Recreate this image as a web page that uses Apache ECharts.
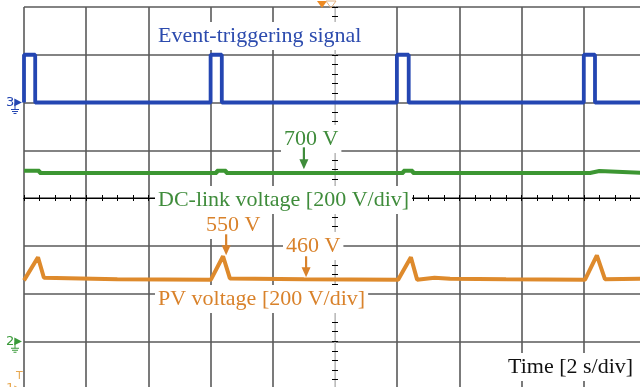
<!DOCTYPE html>
<html>
<head>
<meta charset="utf-8">
<script src="https://cdn.jsdelivr.net/npm/echarts@6/dist/echarts.min.js"></script>
<style>
html,body{margin:0;padding:0;background:#fff;}
#chart{width:640px;height:387px;}
</style>
</head>
<body>
<div id="chart"></div>
<script>
// ---- Data ----
// Time axis: 2 s/div, 10 divisions
const timeTicks = [0, 2, 4, 6, 8, 10, 12, 14, 16, 18, 20];

// Event-triggering signal (logic level, 1 div high)
const eventTime  = [0, 0, 0.36, 0.36, 6.0, 6.0, 6.36, 6.36, 11.99, 11.99, 12.37, 12.37, 18.0, 18.0, 18.36, 18.36, 19.9];
const eventLevel = [0, 1, 1,    0,    0,   1,   1,    0,    0,     1,     1,     0,     0,    1,    1,     0,     0];

// DC-link voltage [V], 200 V/div
const dcTime = [0,   0.5, 0.5, 6.2, 6.2, 6.5, 6.5, 12.2, 12.2, 12.5, 12.5, 18.2, 18.2, 18.5, 18.5, 19.9];
const dcVolt = [714, 714, 705, 705, 714, 714, 705, 705,  714,  714,  705,  705,  713,  713,  705,  705];

// PV voltage [V], 200 V/div
const pvTime = [0,   0.45, 0.64, 3.0, 6.01, 6.4, 6.62, 9.0, 12.03, 12.44, 12.64, 13.2, 13.7, 15.5, 18.04, 18.42, 18.68, 19.9];
const pvVolt = [455, 552,  466,  460, 458,  556, 463,  460, 458,   552,   458,   466,  462,  460,  458,   560,   460,   462];

// Annotations: label text and arrow tip [time, value]
const annoLabels = ['700 V', '550 V', '460 V'];
const annoTips = [[9.0, 720], [6.5, 560], [9.07, 468]];

const zip = (a, b) => a.map((v, i) => [v, b[i]]);

const BLUE = '#2446B2', GREEN = '#3C9632', ORANGE = '#DE8A2C';
const TBLUE = '#2C4BAE', TGREEN = '#3F8C3B', TORANGE = '#D9822B';
const GRIDC = '#5a5a5a';

const chart = echarts.init(document.getElementById('chart'), null, {renderer: 'canvas'});

const splitColors = timeTicks.map((t, i) => i === 5 ? '#c8c8c8' : GRIDC);

const hiddenVal = (extra) => Object.assign({
  type: 'value', show: true, position: 'bottom',
  axisLine: {show: false, onZero: false},
  axisTick: {show: false}, axisLabel: {show: false}, splitLine: {show: false}
}, extra);

const centerX = (inside) => ({
  type: 'value', min: 0, max: 20, interval: 2, position: 'bottom',
  axisLine: {show: true, onZero: true, onZeroAxisIndex: 3, lineStyle: {color: '#000', width: 1.2}},
  axisTick: {show: true, inside: inside, length: 3, lineStyle: {color: '#000', width: 1}},
  minorTick: {show: true, splitNumber: 4, length: 3, lineStyle: {color: '#000', width: 1}},
  axisLabel: {show: false}, splitLine: {show: false}
});
const centerY = (inside) => ({
  type: 'value', min: -4, max: 4, interval: 1, position: 'left',
  axisLine: {show: true, onZero: true, onZeroAxisIndex: 3, lineStyle: {color: '#bdbdbd', width: 1}},
  axisTick: {show: true, inside: inside, length: 3, lineStyle: {color: '#000', width: 1}},
  minorTick: {show: true, splitNumber: 5, length: 3, lineStyle: {color: '#000', width: 1}},
  axisLabel: {show: false}, splitLine: {show: false}
});

const chanLabel = (num, color) => ({
  show: true, margin: 2,
  formatter: v => v === 0 ? '{n|' + num + '}{a|\u25B6}' : '',
  rich: {
    n: {color: color, fontSize: 13, fontFamily: 'DejaVu Sans'},
    a: {color: color, fontSize: 10, fontFamily: 'DejaVu Sans'}
  }
});

chart.setOption({
  animation: false,
  backgroundColor: '#fff',
  grid: {left: 24, right: -6, top: 7, bottom: -2, containLabel: false, outerBoundsMode: 'none'},
  xAxis: [
    {
      type: 'value', min: 0, max: 20, interval: 2, position: 'bottom',
      axisLine: {show: false, onZero: false}, axisTick: {show: false}, axisLabel: {show: false},
      splitLine: {show: true, showMinLine: true, showMaxLine: true, lineStyle: {color: splitColors, width: 1.6}}
    },
    centerX(true),
    centerX(false),
    hiddenVal({min: -5, max: 5})
  ],
  yAxis: [
    {
      type: 'value', min: 0, max: 1600, interval: 200, position: 'left',
      axisLine: {show: false, onZero: false}, axisTick: {show: false},
      axisLabel: chanLabel('1', '#E8A850'),
      splitLine: {show: true, showMinLine: true, showMaxLine: true, lineStyle: {color: GRIDC, width: 1.6}}
    },
    {
      type: 'value', min: -200, max: 1400, interval: 200, position: 'left',
      axisLine: {show: false, onZero: false}, axisTick: {show: false},
      axisLabel: chanLabel('2', '#3a9a3a'), splitLine: {show: false}
    },
    {
      type: 'value', min: -6, max: 2, interval: 1, position: 'left',
      axisLine: {show: false, onZero: false}, axisTick: {show: false},
      axisLabel: chanLabel('3', BLUE), splitLine: {show: false}
    },
    centerY(true),
    centerY(false)
  ],
  series: [
    {
      name: 'PV voltage', type: 'line', xAxisIndex: 0, yAxisIndex: 0,
      data: zip(pvTime, pvVolt), showSymbol: false, symbol: 'none',
      lineStyle: {color: ORANGE, width: 4}, z: 5
    },
    {
      name: 'DC-link voltage', type: 'line', xAxisIndex: 0, yAxisIndex: 1,
      data: zip(dcTime, dcVolt), showSymbol: false, symbol: 'none',
      lineStyle: {color: GREEN, width: 4}, z: 5
    },
    {
      name: 'Event-triggering signal', type: 'line', xAxisIndex: 0, yAxisIndex: 2,
      data: zip(eventTime, eventLevel), showSymbol: false, symbol: 'none',
      lineStyle: {color: BLUE, width: 3.8}, z: 5
    }
  ]
});

// ---- annotations ----
const FONT = '22px "Liberation Serif", "Times New Roman", serif';
const label = (text, x, y, color) => ({
  type: 'text', x: x - 3, y: y, z: 100,
  style: {text: text, fill: color, font: FONT, verticalAlign: 'middle', align: 'left',
          backgroundColor: '#fff', padding: [3, 3]}
});

const arrow = (tip, yAxisIndex, color, len) => {
  const p = chart.convertToPixel({xAxisIndex: 0, yAxisIndex: yAxisIndex}, tip);
  const x = p[0], y = p[1];
  return [
    {type: 'line', z: 101, shape: {x1: x, y1: y - len, x2: x, y2: y - 8},
     style: {stroke: color, lineWidth: 2.2}},
    {type: 'polygon', z: 101, shape: {points: [[x - 4.5, y - 10], [x + 4.5, y - 10], [x, y]]},
     style: {fill: color}}
  ];
};

// small ground symbols under the channel markers
const ground = (yAxisIndex, color) => {
  const y = chart.convertToPixel({xAxisIndex: 0, yAxisIndex: yAxisIndex}, [0, 0])[1];
  const x = 15;
  return [
    {type: 'line', z: 40, shape: {x1: x, y1: y + 1, x2: x, y2: y + 7}, style: {stroke: color, lineWidth: 1}},
    {type: 'line', z: 40, shape: {x1: x - 4, y1: y + 7, x2: x + 4, y2: y + 7}, style: {stroke: color, lineWidth: 1}},
    {type: 'line', z: 40, shape: {x1: x - 3, y1: y + 9, x2: x + 3, y2: y + 9}, style: {stroke: color, lineWidth: 1}},
    {type: 'line', z: 40, shape: {x1: x - 1.5, y1: y + 11, x2: x + 1.5, y2: y + 11}, style: {stroke: color, lineWidth: 1}}
  ];
};

const graphics = [
  label('Event-triggering signal', 158, 36, TBLUE),
  label(annoLabels[0], 284, 139, TGREEN),
  label('DC-link voltage [200 V/div]', 158, 200, TGREEN),
  label(annoLabels[1], 206, 225, TORANGE),
  label(annoLabels[2], 286, 246, TORANGE),
  label('PV voltage [200 V/div]', 158, 299, TORANGE),
  label('Time [2 s/div]', 508, 367, '#111'),
  // trigger position markers at the top
  {type: 'polygon', z: 50, shape: {points: [[317, 1], [327, 1], [322, 8]]}, style: {fill: '#EE8A22'}},
  {type: 'polygon', z: 50, shape: {points: [[326, 1], [336, 1], [331, 8]]}, style: {fill: 'none', stroke: '#E0B080', lineWidth: 1}},
  {type: 'text', x: 16, y: 376, z: 50, style: {text: 'T', fill: '#E8A850', font: '11px "DejaVu Sans"', verticalAlign: 'middle'}}
].concat(
  arrow(annoTips[0], 1, TGREEN, 22),
  arrow(annoTips[1], 0, TORANGE, 21),
  arrow(annoTips[2], 0, TORANGE, 21),
  ground(2, BLUE),
  ground(1, '#3a9a3a')
);

chart.setOption({graphic: graphics});
</script>
</body>
</html>
